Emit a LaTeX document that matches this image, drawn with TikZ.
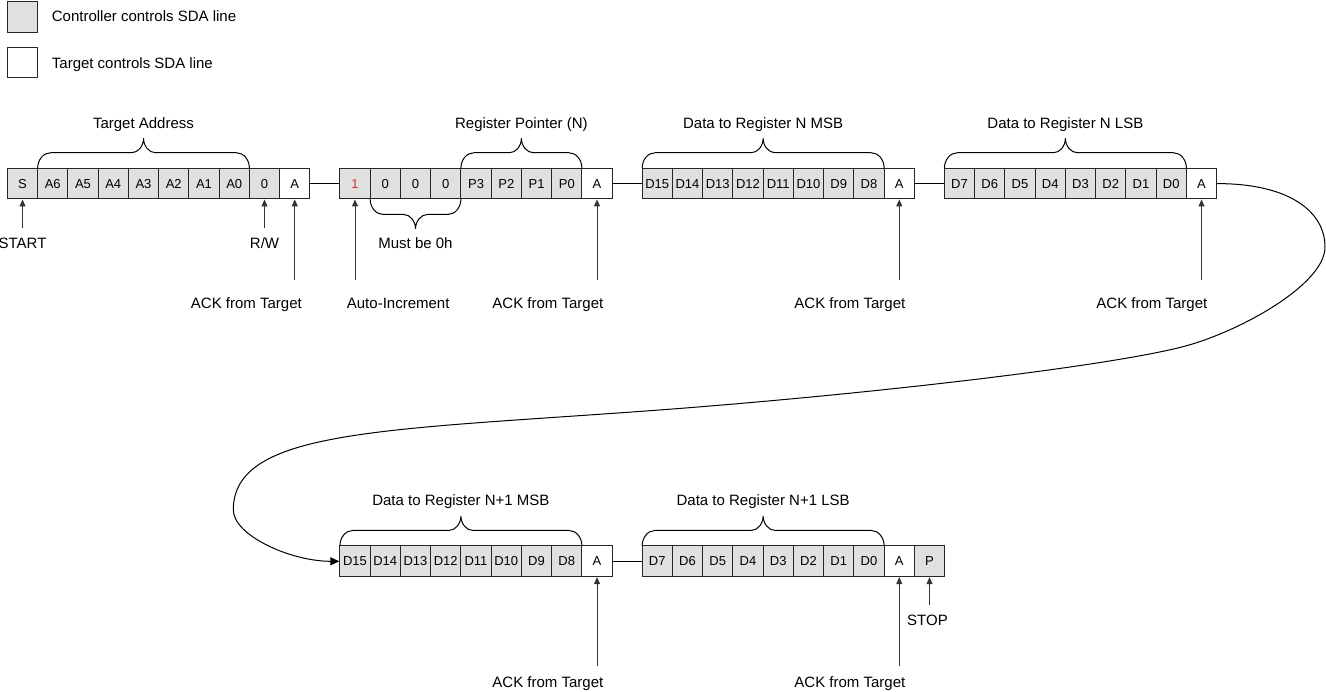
\documentclass[tikz,border=0pt]{standalone}
\usepackage{fontspec}
\setmainfont{Liberation Sans}
\usetikzlibrary{arrows.meta}
\definecolor{cellgray}{RGB}{224,224,224}
\definecolor{autored}{RGB}{230,40,40}
\newcommand{\lblfont}{\fontsize{15}{16}\selectfont}
\newcommand{\cellfont}{\fontsize{13}{14}\selectfont}
% horizontal curly brace: #1 x1, #2 x2, #3 y of base, #4 direction (-1 up, 1 down)
\newcommand{\hbrace}[4]{%
  \pgfmathsetmacro{\bxm}{(#1+#2)/2}%
  \pgfmathsetmacro{\bym}{#3+#4*15.5}%
  \pgfmathsetmacro{\byt}{#3+#4*30}%
  \pgfmathsetmacro{\bya}{#3+#4*8.6}%
  \pgfmathsetmacro{\byb}{#3+#4*22.3}%
  \draw[bracestyle] (#1,#3) .. controls (#1,\bya) and ({#1+5.8},\bym) .. ({#1+13},\bym)
     -- ({\bxm-12},\bym) .. controls ({\bxm-5.4},\bym) and (\bxm,\byb) .. (\bxm,\byt)
     .. controls (\bxm,\byb) and ({\bxm+5.4},\bym) .. ({\bxm+12},\bym)
     -- ({#2-13},\bym) .. controls ({#2-5.8},\bym) and (#2,\bya) .. (#2,#3);%
}
\begin{document}
\begin{tikzpicture}[x=1pt,y=-1pt,
  gcell/.style={rectangle,draw=black!85,fill=cellgray,line width=1pt,
    minimum width=30.25pt,minimum height=30.7pt,inner sep=0pt,font=\cellfont},
  wcell/.style={gcell,fill=white},
  lbl/.style={anchor=base,inner sep=0pt,font=\lblfont},
  bracestyle/.style={draw=black,line width=1pt},
  link/.style={draw=black,line width=1pt},
  uparr/.style={draw=black!80,line width=1pt,-{Triangle[length=7pt,width=6pt]}},
  curvearr/.style={draw=black,line width=1pt,-{Triangle[length=9pt,width=8pt]}}]
\useasboundingbox (0,0) rectangle (1326,692);

% legend
\node[gcell,minimum width=30pt,minimum height=30.6pt] (lg1) at (22.3,17) {};
\node[lbl,anchor=base west] (lt1) at (51.7,22) {Controller controls SDA line};
\node[wcell,minimum width=30pt,minimum height=30pt] (lg2) at (22.3,62.3) {};
\node[lbl,anchor=base west] (lt2) at (51.7,68.3) {Target controls SDA line};

% block 1
\foreach \t [count=\i from 0] in {S,A6,A5,A4,A3,A2,A1,A0,0}
  \node[gcell] (ba\i) at ({7.4+30.25*\i+15.125},183.6) {\t};
\node[wcell] (ba9) at ({7.4+30.25*9+15.125},183.6) {A};
% block 2
\node[gcell] (bb0) at ({339.9+15.125},183.6) {\textcolor{autored}{1}};
\foreach \t [count=\i from 1] in {0,0,0,P3,P2,P1,P0}
  \node[gcell] (bb\i) at ({339.9+30.25*\i+15.125},183.6) {\t};
\node[wcell] (bb8) at ({339.9+30.25*8+15.125},183.6) {A};
% block 3
\foreach \t [count=\i from 0] in {D15,D14,D13,D12,D11,D10,D9,D8}
  \node[gcell] (bc\i) at ({642.15+30.25*\i+15.125},183.6) {\t};
\node[wcell] (bc8) at ({642.15+30.25*8+15.125},183.6) {A};
% block 4
\foreach \t [count=\i from 0] in {D7,D6,D5,D4,D3,D2,D1,D0}
  \node[gcell] (bd\i) at ({944.4+30.25*\i+15.125},183.6) {\t};
\node[wcell] (bd8) at ({944.4+30.25*8+15.125},183.6) {A};
% block 5
\foreach \t [count=\i from 0] in {D15,D14,D13,D12,D11,D10,D9,D8}
  \node[gcell] (be\i) at ({339.9+30.25*\i+15.125},561.3) {\t};
\node[wcell] (be8) at ({339.9+30.25*8+15.125},561.3) {A};
% block 6
\foreach \t [count=\i from 0] in {D7,D6,D5,D4,D3,D2,D1,D0}
  \node[gcell] (bf\i) at ({642.15+30.25*\i+15.125},561.3) {\t};
\node[wcell] (bf8) at ({642.15+30.25*8+15.125},561.3) {A};
\node[gcell] (bf9) at ({642.15+30.25*9+15.125},561.3) {P};

% links between blocks
\draw[link] (ba9.east) -- (bb0.west);
\draw[link] (bb8.east) -- (bc0.west);
\draw[link] (bc8.east) -- (bd0.west);
\draw[link] (be8.east) -- (bf0.west);

% braces
\hbrace{37.65}{249.4}{168.25}{-1}
\hbrace{460.9}{581.9}{168.25}{-1}
\hbrace{370.15}{460.9}{198.95}{1}
\hbrace{642.15}{884.15}{168.25}{-1}
\hbrace{944.4}{1186.4}{168.25}{-1}
\hbrace{339.9}{581.9}{545.95}{-1}
\hbrace{642.15}{884.15}{545.95}{-1}

% brace labels
\node[lbl] (lta) at (143.5,128.3) {Target Address};
\node[lbl] (lrp) at (521.4,128.3) {Register Pointer (N)};
\node[lbl] (lmb) at (415.5,249) {Must be 0h};
\node[lbl] (ld1) at (763.15,128.3) {Data to Register N MSB};
\node[lbl] (ld2) at (1065.4,128.3) {Data to Register N LSB};
\node[lbl] (ld3) at (460.9,505) {Data to Register N+1 MSB};
\node[lbl] (ld4) at (763.15,505) {Data to Register N+1 LSB};

% pointer labels
\node[lbl] (lstart) at (22.525,248.3) {START};
\node[lbl] (lrw) at (264.525,248.3) {R/W};
\node[lbl,anchor=base east] (lack1) at (302,308.3) {ACK from Target};
\node[lbl,anchor=base west] (lauto) at (346.7,308.3) {Auto-Increment};
\node[lbl,anchor=base east] (lack2) at (603.5,308.3) {ACK from Target};
\node[lbl,anchor=base east] (lack3) at (905.5,308.3) {ACK from Target};
\node[lbl,anchor=base east] (lack4) at (1207.5,308.3) {ACK from Target};
\node[lbl,anchor=base east] (lack5) at (603.5,687.3) {ACK from Target};
\node[lbl,anchor=base east] (lack6) at (905.5,687.3) {ACK from Target};
\node[lbl] (lstop) at (927.5,625) {STOP};

% pointer arrows
\draw[uparr,shorten <=9.7pt] (ba0.south |- lstart.north) -- (ba0.south);
\draw[uparr,shorten <=9.7pt] (ba8.south |- lrw.north) -- (ba8.south);
\draw[uparr,shorten <=17.5pt] (ba9.south |- lack1.north) -- (ba9.south);
\draw[uparr,shorten <=17.5pt] (bb0.south |- lauto.north) -- (bb0.south);
\draw[uparr,shorten <=17.5pt] (bb8.south |- lack2.north) -- (bb8.south);
\draw[uparr,shorten <=17.5pt] (bc8.south |- lack3.north) -- (bc8.south);
\draw[uparr,shorten <=17.5pt] (bd8.south |- lack4.north) -- (bd8.south);
\draw[uparr,shorten <=10pt] (be8.south |- lack5.north) -- (be8.south);
\draw[uparr,shorten <=10pt] (bf8.south |- lack6.north) -- (bf8.south);
\draw[uparr,shorten <=9.5pt] (bf9.south |- lstop.north) -- (bf9.south);

% wrap-around curve
\draw[curvearr] (bd8.east) .. controls (1290,183.6) and (1325,212) .. (1325,247)
  .. controls (1325,285) and (1238,332.4) .. (1183,346.7)
  .. controls (1100,368) and (850,396) .. (650,410.7)
  .. controls (380,430.4) and (233.3,430) .. (233.3,510)
  .. controls (233.3,535) and (290,561.3) .. (be0.west);
\end{tikzpicture}
\end{document}
